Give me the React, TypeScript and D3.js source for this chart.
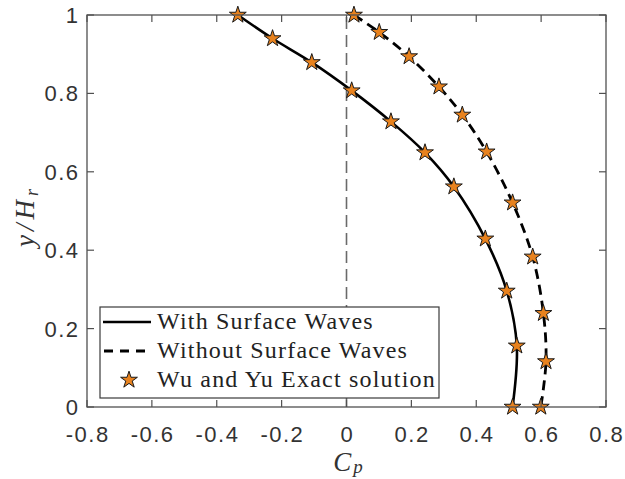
import React from "react";
import * as d3 from "d3";

const xTicks = [-0.8, -0.6, -0.4, -0.2, 0, 0.2, 0.4, 0.6, 0.8];
const yTicks = [0, 0.2, 0.4, 0.6, 0.8, 1];

// With surface waves (solid line + stars)
const yWith = [1, 0.94, 0.879, 0.807, 0.728, 0.649, 0.562, 0.429, 0.296, 0.156, 0];
const cpWith = [-0.335, -0.228, -0.107, 0.016, 0.137, 0.242, 0.331, 0.428, 0.494, 0.525, 0.512];

// Without surface waves (dashed line + stars)
const yWithout = [1, 0.956, 0.894, 0.817, 0.745, 0.651, 0.521, 0.383, 0.239, 0.116, 0];
const cpWithout = [0.023, 0.101, 0.193, 0.285, 0.357, 0.432, 0.512, 0.574, 0.607, 0.615, 0.599];

const legendLabels = ["With Surface Waves", "Without Surface Waves", "Wu and Yu Exact solution"];

const W = 625;
const H = 479;
const L = 87, R = 606, T = 15, B = 407;

const x = d3.scaleLinear().domain([-0.8, 0.8]).range([L, R]);
const y = d3.scaleLinear().domain([0, 1]).range([B, T]);

const fmt = (v: number) => {
  let s = d3.format(".1f")(v).replace("\u2212", "-");
  if (s === "0.0" || s === "-0.0") return "0";
  if (s === "1.0") return "1";
  return s;
};

const line = d3
  .line<[number, number]>()
  .x((d) => x(d[0]))
  .y((d) => y(d[1]))
  .curve(d3.curveCatmullRom.alpha(0.5));

const star = d3.symbol().type(d3.symbolStar).size(88)()!;

const ORANGE = "#E8821E";
const AXIS = "#505050";
const TXT = "#333333";

export default function App() {
  const withPts: [number, number][] = cpWith.map((c, i) => [c, yWith[i]]);
  const withoutPts: [number, number][] = cpWithout.map((c, i) => [c, yWithout[i]]);
  const tickLen = 7;
  const sansFont = "'Liberation Sans', Arial, sans-serif";
  const serifFont = "'Liberation Serif', 'Times New Roman', serif";

  const legX = 100, legY = 307, legW = 339, legH = 91;
  const rows = [322, 351, 380];

  return (
    <svg width={W} height={H} style={{ position: "absolute", left: 0, top: 0, background: "#fff" }}>
      <rect x={0} y={0} width={W} height={H} fill="#fff" />
      {/* zero reference line */}
      <line x1={x(0)} x2={x(0)} y1={y(0)} y2={y(1)} stroke="#6a6a6a" strokeWidth={1.6} strokeDasharray="12,6" />

      {/* curves */}
      <path d={line(withPts) || ""} fill="none" stroke="#000" strokeWidth={2.6} />
      <path d={line(withoutPts) || ""} fill="none" stroke="#000" strokeWidth={2.8} strokeDasharray="10,6" />

      {/* stars */}
      {withPts.concat(withoutPts).map((d, i) => (
        <path key={i} d={star} transform={`translate(${x(d[0])},${y(d[1])})`} fill={ORANGE} stroke="#1a1a1a" strokeWidth={1} />
      ))}

      {/* axes box */}
      <rect x={L} y={T} width={R - L} height={B - T} fill="none" stroke={AXIS} strokeWidth={1.3} />
      {xTicks.map((t) => (
        <g key={"x" + t}>
          <line x1={x(t)} x2={x(t)} y1={B} y2={B - tickLen} stroke={AXIS} strokeWidth={1.2} />
          <line x1={x(t)} x2={x(t)} y1={T} y2={T + tickLen} stroke={AXIS} strokeWidth={1.2} />
          <text x={x(t) + 0.75} y={442} textAnchor="middle" fontFamily={sansFont} fontSize={22} letterSpacing={1.5} fill={TXT}>
            {fmt(t)}
          </text>
        </g>
      ))}
      {yTicks.map((t) => (
        <g key={"y" + t}>
          <line x1={L} x2={L + tickLen} y1={y(t)} y2={y(t)} stroke={AXIS} strokeWidth={1.2} />
          <line x1={R} x2={R - tickLen} y1={y(t)} y2={y(t)} stroke={AXIS} strokeWidth={1.2} />
          <text x={79.5} y={y(t) + 8} textAnchor="end" fontFamily={sansFont} fontSize={22} letterSpacing={1.5} fill={TXT}>
            {fmt(t)}
          </text>
        </g>
      ))}

      {/* axis labels */}
      <text x={349} y={471} textAnchor="middle" fontFamily={serifFont} fontStyle="italic" fontSize={27} letterSpacing={2} fill={TXT}>
        C<tspan fontSize={19} dy={2}>p</tspan>
      </text>
      <text
        transform={`translate(34,216) rotate(-90)`}
        textAnchor="middle"
        fontFamily={serifFont}
        fontStyle="italic"
        fontSize={27}
        letterSpacing={4}
        fill={TXT}
      >
        y/H<tspan fontSize={18} dy={4}>r</tspan>
      </text>

      {/* legend */}
      <rect x={legX} y={legY} width={legW} height={legH} fill="#fff" stroke="#3a3a3a" strokeWidth={1.2} />
      <line x1={103} x2={151} y1={rows[0]} y2={rows[0]} stroke="#000" strokeWidth={2.6} />
      <line x1={104} x2={151} y1={rows[1]} y2={rows[1]} stroke="#000" strokeWidth={2.8} strokeDasharray="9,7" />
      <path d={star} transform={`translate(129,${rows[2]})`} fill={ORANGE} stroke="#1a1a1a" strokeWidth={1} />
      {legendLabels.map((lab, i) => (
        <text key={lab} x={157} y={rows[i] + 7} fontFamily={serifFont} fontSize={24} letterSpacing={1.2} fill="#222">
          {lab}
        </text>
      ))}
    </svg>
  );
}
